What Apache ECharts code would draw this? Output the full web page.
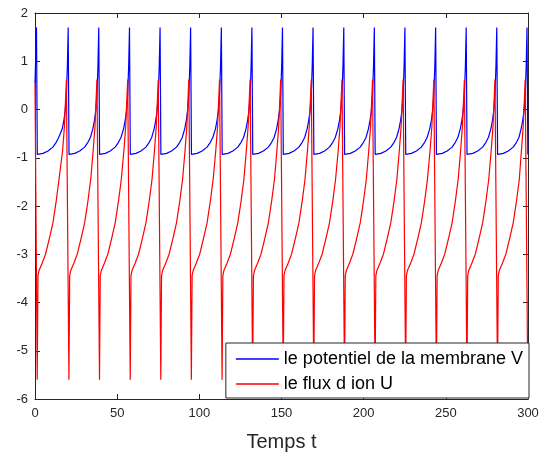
<!DOCTYPE html>
<html>
<head>
<meta charset="utf-8">
<script src="https://cdn.jsdelivr.net/npm/echarts@6/dist/echarts.min.js"></script>
<style>
    html, body { margin: 0; padding: 0; background: #fff; }
    #box { width: 553px; height: 457px; }
</style>
</head>
<body>
<div id="box"></div>
<script>
// instants des pics
var spikeTimes = [0.9, 20.2, 38.8, 57.5, 76.1, 94.7, 113.4, 132.0, 150.6, 169.2, 187.9, 206.5, 225.1, 243.8, 262.4, 281.0, 299.4];
// conditions initiales
var v0 = 0.55;
var u0 = 0.55;
// forme d'un cycle de V : [decalage apres le pic, valeur] et [decalage avant le pic suivant, valeur]
var vPost = [[0.5, -0.93], [1.2, -0.93], [4, -0.91], [7, -0.86], [10, -0.78], [12, -0.68], [13.5, -0.58]];
var vPre = [[-3.6, -0.40], [-2.6, -0.22], [-1.8, -0.02], [-1.1, 0.3], [-0.5, 0.9], [0, 1.7]];
// forme d'un cycle de U
var uPost = [[0.45, -5.6], [0.9, -3.45], [1.6, -3.33], [3.5, -3.18], [5.5, -3.0], [8, -2.65], [10, -2.35], [12, -1.9], [13.7, -1.45]];
var uPre = [[-3.4, -0.85], [-2.3, -0.35], [-1.1, 0.62]];
var xTicks = [0, 50, 100, 150, 200, 250, 300];
var yTicks = [-6, -5, -4, -3, -2, -1, 0, 1, 2];
var tEnd = 300;

function buildSeries(start, pre, post) {
    var list = [[0, start]];
    for (var k = 0; k < spikeTimes.length; k++) {
        var s = spikeTimes[k];
        if (k == 0) {
            // premier pic : seulement le sommet
            if (pre[pre.length - 1][0] == 0) list.push([s, pre[pre.length - 1][1]]);
        } else {
            for (var i = 0; i < pre.length; i++) list.push([s + pre[i][0], pre[i][1]]);
        }
        for (var j = 0; j < post.length; j++) list.push([s + post[j][0], post[j][1]]);
    }
    return list.filter(function (p) { return p[0] <= tEnd; });
}

var axisCol = '#262626';
var font = 'Liberation Sans';
var myChart = echarts.init(document.getElementById("box"));
var option = {
    backgroundColor: '#fff',
    animation: false,
    grid: { left: 35, right: 25, top: 13, bottom: 58 },
    legend: {
        orient: 'vertical',
        right: 24,
        bottom: 59,
        backgroundColor: '#fff',
        borderColor: axisCol,
        borderWidth: 1,
        padding: [7, 6, 5, 10],
        itemGap: 7,
        itemWidth: 43,
        itemHeight: 1.5,
        icon: 'rect',
        textStyle: { fontFamily: font, fontSize: 18, color: '#000' },
        data: ['le potentiel de la membrane V', 'le flux d ion U']
    },
    xAxis: [{
        type: 'value', min: xTicks[0], max: xTicks[xTicks.length - 1], interval: 50,
        axisLine: { onZero: false, lineStyle: { color: axisCol } },
        axisTick: { inside: true, length: 5, lineStyle: { color: axisCol } },
        axisLabel: { color: axisCol, fontFamily: font, fontSize: 13, margin: 8 },
        splitLine: { show: false },
        name: 'Temps t', nameLocation: 'middle', nameGap: 33,
        nameTextStyle: { color: axisCol, fontFamily: font, fontSize: 20 }
    }, {
        type: 'value', position: 'top', min: xTicks[0], max: xTicks[xTicks.length - 1], interval: 50,
        axisLine: { onZero: false, lineStyle: { color: axisCol } },
        axisTick: { inside: true, length: 5, lineStyle: { color: axisCol } },
        axisLabel: { show: false }, splitLine: { show: false }
    }],
    yAxis: [{
        type: 'value', min: yTicks[0], max: yTicks[yTicks.length - 1], interval: 1,
        axisLine: { show: true, onZero: false, lineStyle: { color: axisCol } },
        axisTick: { show: true, inside: true, length: 5, lineStyle: { color: axisCol } },
        axisLabel: { color: axisCol, fontFamily: font, fontSize: 13, margin: 7 },
        splitLine: { show: false }
    }, {
        type: 'value', position: 'right', min: yTicks[0], max: yTicks[yTicks.length - 1], interval: 1,
        axisLine: { show: true, onZero: false, lineStyle: { color: axisCol } },
        axisTick: { show: true, inside: true, length: 5, lineStyle: { color: axisCol } },
        axisLabel: { show: false }, splitLine: { show: false }
    }],
    series: [{
        name: 'le potentiel de la membrane V',
        type: 'line',
        showSymbol: false,
        symbol: 'none',
        color: '#0000ff',
        lineStyle: { width: 1.2, color: '#0000ff' },
        data: buildSeries(v0, vPre, vPost)
    }, {
        name: 'le flux d ion U',
        type: 'line',
        showSymbol: false,
        symbol: 'none',
        color: '#ff0000',
        lineStyle: { width: 1.2, color: '#ff0000' },
        data: buildSeries(u0, uPre, uPost)
    }]
};
myChart.setOption(option);
</script>
</body>
</html>
